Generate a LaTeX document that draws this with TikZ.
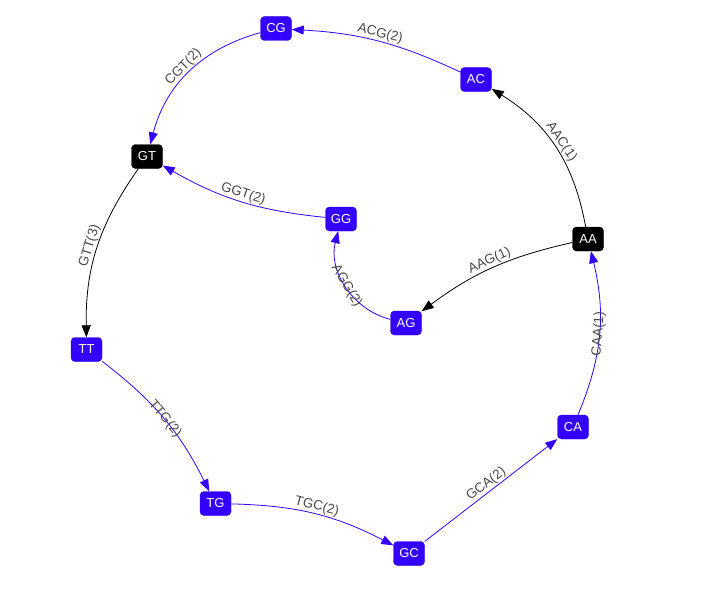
\documentclass[tikz,border=0pt]{standalone}
\usepackage{fontspec}
\setmainfont{Liberation Sans}
\usetikzlibrary{arrows.meta}
\definecolor{kblue}{RGB}{51,0,255}
\tikzset{kmer/.style={fill=kblue,draw=kblue!80!black,rounded corners=4pt,text=white,minimum width=31pt,minimum height=24pt,inner sep=0pt,font=\fontsize{13}{15}\selectfont},hub/.style={kmer,fill=black,draw=black},edgeblue/.style={-{Triangle[length=12pt,width=9pt]},draw=kblue,line width=.8pt},edgeblack/.style={edgeblue,draw=black},lbl/.style={sloped,above=0pt,inner sep=1pt,text=black!72,font=\fontsize{13.5}{15}\selectfont}}

\begin{document}
\begin{tikzpicture}[x=1pt,y=-1pt]
\useasboundingbox (0,0) rectangle (717,594);
\node[kmer](CG) at(276,28.5){CG};\node[kmer](AC) at(476,79.5){AC};
\node[hub](GT) at(147,156.5){GT};\node[kmer](GG) at(341,219){GG};
\node[hub](AA) at(588,239){AA};\node[kmer](AG) at(406,323){AG};
\node[kmer](TT) at(86.5,349.5){TT};\node[kmer](CA) at(573,427){CA};
\node[kmer](TG) at(215.5,503.5){TG};\node[kmer](GC) at(409,553.5){GC};
% outer cycle
\draw[edgeblue](AC) to[bend right=11] node[lbl]{ACG(2)} (CG);
\draw[edgeblue](CG) to[bend right=30] node[lbl]{CGT(2)} (GT);
\draw[edgeblack](GT) to[bend right=18] node[lbl]{GTT(3)} (TT);
\draw[edgeblue](TT) to[bend left=13] node[lbl,above=-7pt]{TTG(2)} (TG);
\draw[edgeblue](TG) to[bend left=13] node[lbl]{TGC(2)} (GC);
\draw[edgeblue](GC) -- node[lbl]{GCA(2)} (CA);
\draw[edgeblue](CA) to[bend right=18] node[lbl,above=-7pt]{CAA(1)} (AA);
\draw[edgeblack](AA) to[bend right=24] node[lbl]{AAC(1)} (AC);
% inner loop
\draw[edgeblack](AA) to[bend right=12] node[lbl]{AAG(1)} (AG);
\draw[edgeblue](AG) to[bend left=45] node[lbl,above=-7pt]{AGG(2)} (GG);
\draw[edgeblue](GG) to[bend left=12] node[lbl]{GGT(2)} (GT);
\end{tikzpicture}
\end{document}
